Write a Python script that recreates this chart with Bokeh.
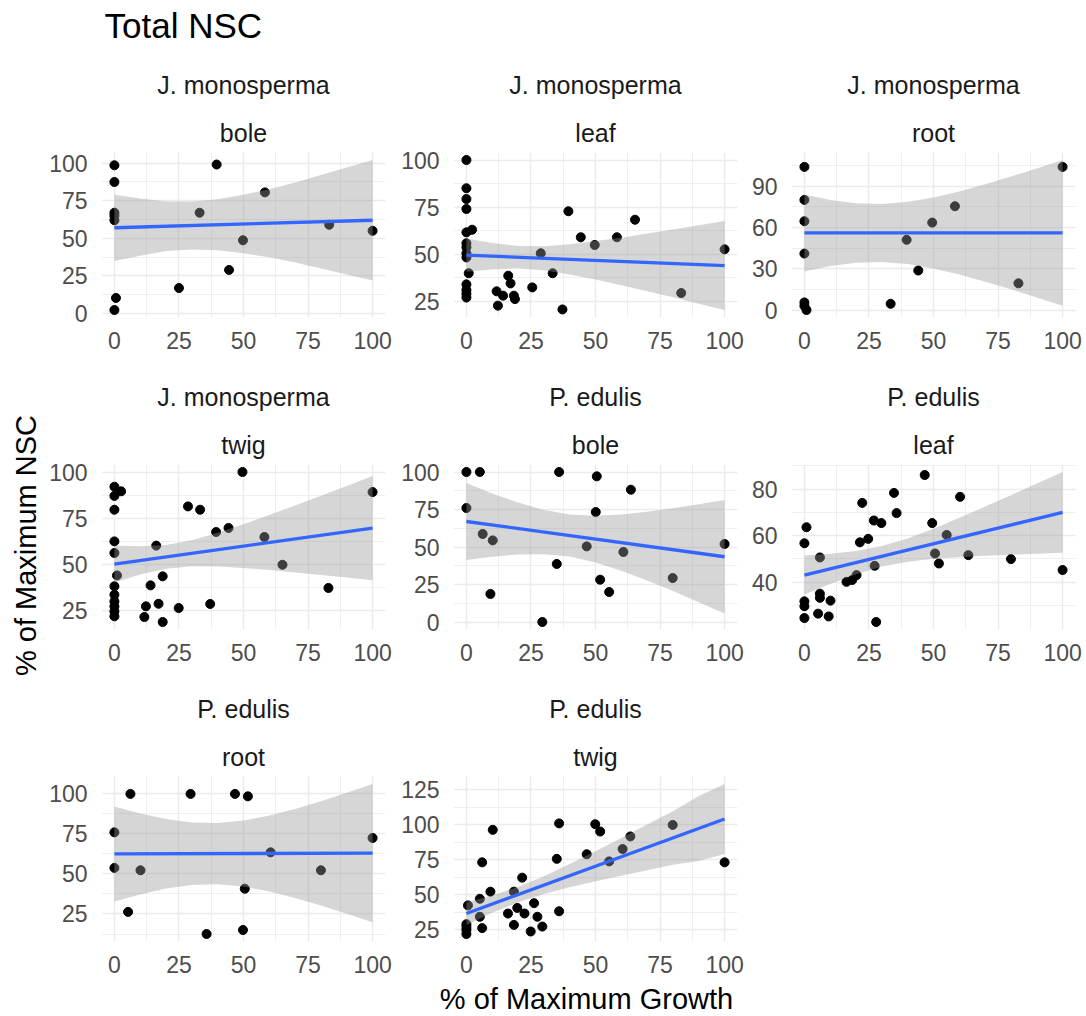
import numpy as np
from bokeh.plotting import figure
from bokeh.models import Range1d, FixedTicker, Title, Spacer
from bokeh.layouts import row, column
from bokeh.embed import file_html
from bokeh.resources import INLINE
from bokeh.core.properties import value

FONT = "Liberation Sans"

# ---------------------------------------------------------------
# Scatter values (% of maximum growth, % of maximum NSC) per facet
# ---------------------------------------------------------------
JM_BOLE_X = [0, 0, 0, 0, 0, 0, 0.6, 25, 33, 39.6, 44.4, 49.8, 58.3, 83.2, 100]
JM_BOLE_Y = [98.5, 87.4, 67, 65, 62, 2.4, 10.4, 17, 67, 99, 29, 48.7, 80.5, 59, 55]

JM_LEAF_X = [0, 0, 0, 0, 0, 2.2, 0, 0, 0, 0, 0.9, 0, 0, 0, 0,
             11.7, 12.2, 14.2, 16.2, 17.1, 18.4, 18.8, 25.5, 28.8, 33.4,
             37.2, 39.5, 44.3, 49.7, 58.3, 65.3, 83.2, 100]
JM_LEAF_Y = [100, 85, 79.3, 74, 61.6, 63, 55.8, 53.7, 50.5, 48.3, 39.9, 34, 31, 29, 27,
             30.3, 22.7, 28, 38.6, 34.5, 28, 26.2, 32.4, 50.5, 39.9,
             20.7, 72.8, 59, 54.9, 59, 68.3, 29.4, 52.6]

JM_ROOT_X = [0, 0, 0, 0, 0, 0.8, 0, 33.4, 39.6, 44.1, 49.5, 58.3, 82.9, 100]
JM_ROOT_Y = [104, 80, 64.5, 41, 5.5, 0, 3, 4.5, 51, 28.7, 63.5, 75.4, 19.4, 104]

JM_TWIG_X = [0, 0, 2.6, 0, 0, 0, 1, 0, 0, 0, 0, 0, 0,
             11.6, 12.2, 14, 16.2, 17.1, 18.7, 18.7, 24.9, 28.5, 33.2,
             37.1, 39.4, 44.2, 49.6, 58.1, 65.1, 82.9, 100]
JM_TWIG_Y = [92, 87, 89.5, 79.5, 62.3, 56, 43.8, 37.9, 33.3, 29.7, 27, 24.3, 21.6,
             21.2, 27, 38.4, 60, 28.4, 18.5, 43.3, 26.1, 81.3, 79.5,
             28.3, 67.4, 69.6, 100, 64.7, 49.6, 37, 89.1]

PE_BOLE_X = [0, 5.2, 0, 6.3, 10.2, 9.3, 29.4, 35, 35.9, 46.6, 50.1, 50.5,
             51.8, 55.3, 63.7, 60.8, 79.9, 100]
PE_BOLE_Y = [100, 100, 76, 58.7, 54.4, 18.7, 0, 38.7, 100, 50.4, 73.3, 97.1,
             28.2, 20, 88.2, 46.7, 29.3, 52]

PE_LEAF_X = [0.8, 0, 0, 0, 0, 6, 6, 6, 5.3, 9.4, 10.1, 16.3, 18.5, 20.2, 21.5,
             22.4, 24.7, 26.9, 29.8, 27.2, 27.8, 34.7, 35.7, 46.6, 49.5, 50.6,
             52.1, 55.1, 60.3, 63.5, 80, 100]
PE_LEAF_Y = [63.6, 56.7, 31.7, 29.6, 24.5, 50.6, 35, 33.2, 26.4, 25.2, 32, 40.1, 40.9, 43, 57.1,
             74.1, 58.6, 66.5, 65.4, 47, 22.8, 78.4, 69.7, 86.1, 65.4, 52.3,
             48, 60.3, 76.7, 51.6, 49.9, 45.2]

PE_ROOT_X = [0, 0, 6.2, 5.3, 10.1, 29.5, 35.7, 46.7, 51.7, 49.8, 50.5, 60.5, 80, 100]
PE_ROOT_Y = [76, 53.8, 100, 26.3, 52.3, 100, 12.5, 100, 98.5, 15, 40.8, 63.5, 52.3, 72.5]

PE_TWIG_X = [0, 0, 0, 0, 0.6, 5.2, 5.2, 6.1, 6.1, 9.3, 10.2, 16.1, 18.4, 18.4, 19.7,
             21.6, 22.5, 24.9, 26.2, 27.5, 29.4, 35.9, 35, 35.9, 46.6, 49.9, 51.8,
             55.3, 60.5, 63.5, 79.9, 100]
PE_TWIG_Y = [22, 25, 27, 29, 42.4, 47.1, 34.3, 26.2, 73.1, 52.2, 96.3, 36.6, 52.2, 28.5, 40.6,
             62.2, 36.6, 23.8, 44, 34.3, 27.3, 100.9, 75.6, 38.2, 78.9, 100.3, 95.1,
             73.8, 82.6, 91.6, 99.8, 73.1]

# ---------------------------------------------------------------
# Linear fits: fitted value at growth 0 and 100, and the 95 % CI
# half-width at each growth value in BAND_X
# ---------------------------------------------------------------
BAND_X = [0, 10, 20, 30, 40, 50, 60, 70, 80, 90, 100]

JM_BOLE_FIT = [57, 62]
JM_BOLE_CI = [22, 19, 16.5, 16, 17, 19.5, 22.5, 26.5, 31, 35.5, 40]
JM_LEAF_FIT = [49.5, 44]
JM_LEAF_CI = [8.8, 7, 6, 6.4, 8, 10.2, 12.6, 15.3, 18, 20.8, 23.6]
JM_ROOT_FIT = [56, 56]
JM_ROOT_CI = [28, 24, 21.6, 21.1, 22.6, 25.8, 30.2, 35.4, 41, 46.9, 53]
JM_TWIG_FIT = [50, 69.5]
JM_TWIG_CI = [10, 7.7, 6.5, 7.1, 9.2, 11.9, 15, 18.2, 21.5, 24.9, 28.3]
PE_BOLE_FIT = [67, 43.5]
PE_BOLE_CI = [25.6, 21.1, 17.3, 14.7, 14, 15.6, 18.8, 22.9, 27.6, 32.6, 37.8]
PE_LEAF_FIT = [43, 70]
PE_LEAF_CI = [8.4, 6.5, 5, 4.4, 5, 6.5, 8.5, 10.6, 12.8, 15.1, 17.4]
PE_ROOT_FIT = [62.5, 63]
PE_ROOT_CI = [29.7, 25.3, 21.7, 19.5, 19.1, 20.6, 23.7, 27.8, 32.6, 37.8, 43.2]
PE_TWIG_FIT = [36.6, 104]
PE_TWIG_CI = [8.1, 6.2, 5.5, 6.3, 8.3, 10.7, 13.4, 16.3, 19.1, 23.1, 25]

# Axis breaks
GROWTH_TICKS = [0, 25, 50, 75, 100]
NSC_TICKS_25 = [0, 25, 50, 75, 100]
NSC_TICKS_25_HI = [25, 50, 75, 100]
NSC_TICKS_30 = [0, 30, 60, 90]
NSC_TICKS_20 = [40, 60, 80]
NSC_TICKS_TWIG = [25, 50, 75, 100, 125]

TITLE = "Total NSC"
X_TITLE = "% of Maximum Growth"
Y_TITLE = "% of Maximum NSC"

PANELS = [
    dict(species="J. monosperma", part="bole", x=JM_BOLE_X, y=JM_BOLE_Y, fit=JM_BOLE_FIT, ci=JM_BOLE_CI, yticks=NSC_TICKS_25),
    dict(species="J. monosperma", part="leaf", x=JM_LEAF_X, y=JM_LEAF_Y, fit=JM_LEAF_FIT, ci=JM_LEAF_CI, yticks=NSC_TICKS_25_HI),
    dict(species="J. monosperma", part="root", x=JM_ROOT_X, y=JM_ROOT_Y, fit=JM_ROOT_FIT, ci=JM_ROOT_CI, yticks=NSC_TICKS_30),
    dict(species="J. monosperma", part="twig", x=JM_TWIG_X, y=JM_TWIG_Y, fit=JM_TWIG_FIT, ci=JM_TWIG_CI, yticks=NSC_TICKS_25_HI),
    dict(species="P. edulis", part="bole", x=PE_BOLE_X, y=PE_BOLE_Y, fit=PE_BOLE_FIT, ci=PE_BOLE_CI, yticks=NSC_TICKS_25),
    dict(species="P. edulis", part="leaf", x=PE_LEAF_X, y=PE_LEAF_Y, fit=PE_LEAF_FIT, ci=PE_LEAF_CI, yticks=NSC_TICKS_20),
    dict(species="P. edulis", part="root", x=PE_ROOT_X, y=PE_ROOT_Y, fit=PE_ROOT_FIT, ci=PE_ROOT_CI, yticks=NSC_TICKS_25_HI),
    dict(species="P. edulis", part="twig", x=PE_TWIG_X, y=PE_TWIG_Y, fit=PE_TWIG_FIT, ci=PE_TWIG_CI, yticks=NSC_TICKS_TWIG),
]

GRID = "#EBEBEB"
TICK_TEXT = "#4D4D4D"
STRIP_TEXT = "#1A1A1A"
FRAME_W, FRAME_H = 284, 165

PAGE_W, PAGE_H = 1086, 1016
HEADER_H, FOOTER_H, YLAB_W = 50, 32, 45

# column borders: (left, right)
COLS = [(101 - YLAB_W, 12), (56, 8), (46, 11)]
# row borders: (top, bottom)
ROWS = [(102, 45), (102, 45), (102, 43)]


def minor_between(ticks):
    step = ticks[1] - ticks[0]
    return [t - step / 2 for t in ticks] + [ticks[-1] + step / 2]


def strip_title(text, standoff):
    return Title(text=text, align="center", text_font=FONT, text_font_size="25px",
                 text_font_style="normal", text_color=STRIP_TEXT, standoff=standoff)


def blank_canvas(width, height):
    c = figure(width=width, height=height, x_range=Range1d(0, width), y_range=Range1d(0, height),
               x_axis_type=None, y_axis_type=None, min_border=0,
               output_backend="svg", toolbar_location=None,
               outline_line_color=None, background_fill_color="white",
               border_fill_color="white")
    return c


def make_panel(spec, left, right, top, bottom):
    xs = np.asarray(spec["x"], float)
    ys = np.asarray(spec["y"], float)
    bx = np.asarray(BAND_X, float)
    f0, f1 = spec["fit"]
    fitted = f0 + (f1 - f0) * (bx - bx[0]) / (bx[-1] - bx[0])
    hw = np.asarray(spec["ci"], float)
    lower, upper = fitted - hw, fitted + hw

    # limits: data + ribbon, expanded 5 % on each side
    ylo = min(ys.min(), lower.min())
    yhi = max(ys.max(), upper.max())
    ypad = 0.05 * (yhi - ylo)
    xlo, xhi = xs.min(), xs.max()
    xpad = 0.05 * (xhi - xlo)

    p = figure(frame_width=FRAME_W, frame_height=FRAME_H,
               x_range=Range1d(xlo - xpad, xhi + xpad),
               y_range=Range1d(ylo - ypad, yhi + ypad),
               min_border_left=left, min_border_right=right,
               min_border_top=top, min_border_bottom=bottom,
               output_backend="svg", toolbar_location=None,
               background_fill_color="white", border_fill_color="white",
               outline_line_color=None)

    p.xaxis.ticker = FixedTicker(ticks=GROWTH_TICKS, minor_ticks=minor_between(GROWTH_TICKS))
    p.yaxis.ticker = FixedTicker(ticks=spec["yticks"], minor_ticks=minor_between(spec["yticks"]))

    for g in (p.xgrid[0], p.ygrid[0]):
        g.grid_line_color = GRID
        g.grid_line_width = 1.4
        g.minor_grid_line_color = GRID
        g.minor_grid_line_width = 0.8

    for ax in (p.xaxis[0], p.yaxis[0]):
        ax.axis_line_color = None
        ax.major_tick_line_color = None
        ax.minor_tick_line_color = None
        ax.major_tick_out = 0
        ax.major_tick_in = 0
        ax.minor_tick_out = 0
        ax.minor_tick_in = 0
        ax.major_label_text_font = FONT
        ax.major_label_text_font_size = "23px"
        ax.major_label_text_color = TICK_TEXT
    p.xaxis.major_label_standoff = 14
    p.yaxis.major_label_standoff = 14

    # points first, then the confidence ribbon, then the fitted line
    p.scatter(xs, ys, size=9, color="black")
    p.varea(x=bx, y1=lower, y2=upper, fill_color="#999999", fill_alpha=0.4)
    p.line([xlo, xhi], [f0, f1], line_color="#3366FF", line_width=3.3)

    p.add_layout(strip_title(spec["part"], 12), "above")
    p.add_layout(strip_title(spec["species"], 24), "above")
    return p


panels = []
for i, spec in enumerate(PANELS):
    r, c = divmod(i, 3)
    left, right = COLS[c]
    top, bottom = ROWS[r]
    panels.append(make_panel(spec, left, right, top, bottom))

empty_w = COLS[2][0] + FRAME_W + COLS[2][1]
empty_h = ROWS[2][0] + FRAME_H + ROWS[2][1]
grid = column(
    row(*panels[0:3]),
    row(*panels[3:6]),
    row(panels[6], panels[7], Spacer(width=empty_w, height=empty_h)),
)

body_h = PAGE_H - HEADER_H - FOOTER_H

header = blank_canvas(PAGE_W, HEADER_H)
header.text(x=[104], y=[25], text=[TITLE], text_font=value(FONT),
            text_font_size="35px", text_baseline="middle", text_color="black")

ylab = blank_canvas(YLAB_W, body_h)
ylab.text(x=[25], y=[PAGE_H - FOOTER_H - 545], text=[Y_TITLE], angle=np.pi / 2,
          text_font=value(FONT), text_font_size="29px", text_align="center",
          text_baseline="middle", text_color="black")

footer = blank_canvas(PAGE_W, FOOTER_H)
footer.text(x=[586], y=[PAGE_H - 998], text=[X_TITLE], text_font=value(FONT),
            text_font_size="29px", text_align="center", text_baseline="middle",
            text_color="black")

layout = column(header, row(ylab, grid), footer)

open("out.html", "w").write(file_html(layout, INLINE))
